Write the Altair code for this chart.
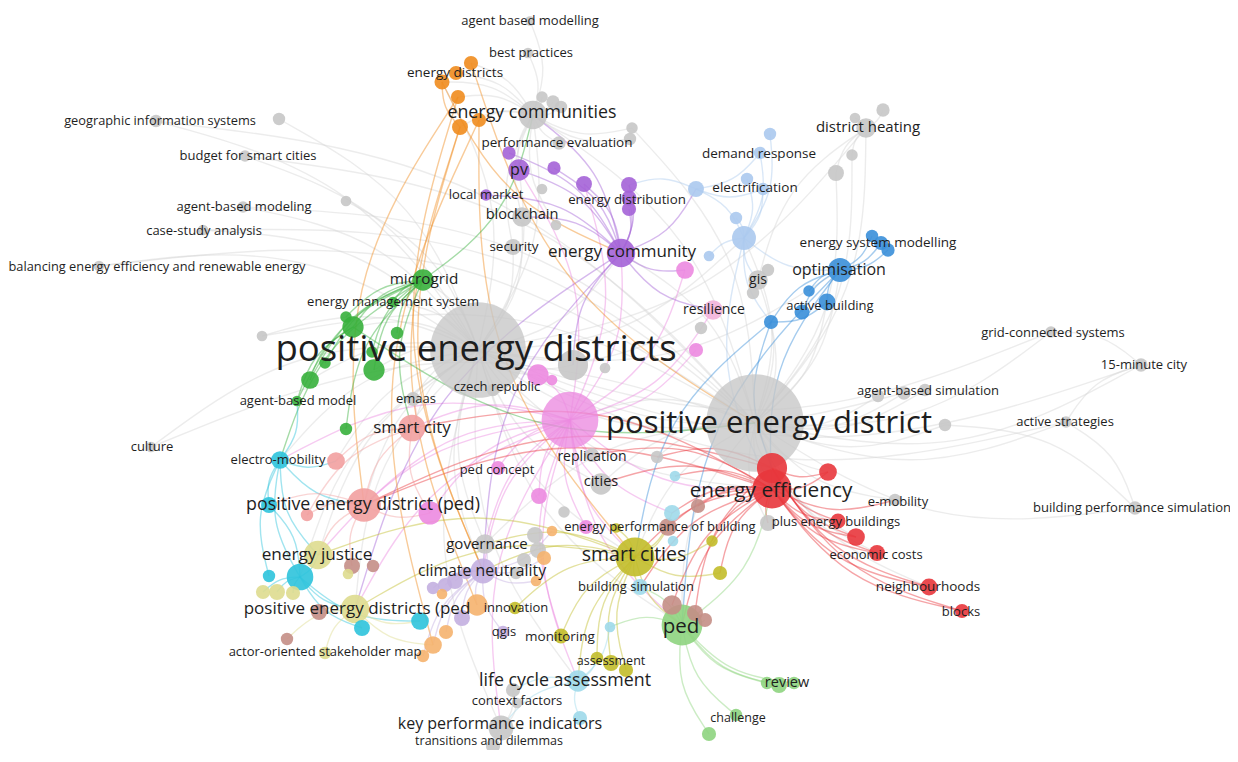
import altair as alt
import pandas as pd

# ---------------- cluster colours ----------------
cluster_colors = {
    "G": "#c6c6c6", "O": "#f08c1e", "P": "#a463d7", "LB": "#abc9ee", "B": "#3a8fd9",
    "GR": "#37b03c", "PK": "#ec8ae0", "S": "#f2a0a0", "R": "#e8363c", "C": "#2ec3dc",
    "Y": "#c2bd2a", "KH": "#dedc8f", "BR": "#c48e86", "LG": "#8ed47f", "LC": "#9ed9ea",
    "LV": "#c3afe0", "LO": "#f5b26e", "LP": "#f2b3da",
}

# ---------------- nodes (id, x, y, diameter, cluster) ----------------
node_id = [
    "peds", "ped1", "ecom", "abm", "bp", "g1", "g2", "g3", "g4", "g5", "perf", "bc", "g6", "g7", "sec",
    "gis1", "g8", "bud", "abmod", "g9", "csa", "bal", "g10", "cul", "emaas", "czech", "g11", "g12",
    "g13", "gis", "g14", "g15", "dh", "g16", "g17", "g18", "g19", "grid", "min15", "abs1", "abs2",
    "abs3", "g20", "act", "bps", "emob", "repl", "cities", "g21", "g22", "gov", "g23", "g24", "g25",
    "g26", "ctx", "g27", "kpi", "tad", "g28",
    "o1", "o2", "o3", "o4", "o5", "o6",
    "pv", "p1", "lm", "p2", "p3", "p4", "p5", "p6", "ecomty",
    "lb1", "lb2", "lb3", "lb4", "lb5", "lb6", "lb7", "lb8",
    "b1", "b2", "b3", "opt", "b4", "b5", "b6", "b7",
    "mg", "ems", "gr1", "gr2", "gr3", "gr4", "gr5", "gr6", "gr7", "gr8", "gr9",
    "pkbig", "pk1", "pk2", "pk3", "pk4", "pedc", "pk5", "pk6", "pk7", "res",
    "pedp", "sc", "s1", "s2",
    "ee1", "ee2", "r1", "r2", "r3", "ec", "nb", "bl",
    "em", "c1", "c2", "c3", "c4", "c5",
    "scs", "y1", "y2", "y3", "mon", "y4", "y5", "y6", "innov",
    "ej", "pedsp", "k1", "k2", "k3", "asm", "k5",
    "br1", "br2", "br3", "br4", "br5", "br6", "br7", "br8", "br9",
    "ped", "rv1", "rv2", "rv3", "ch", "lg1",
    "lc1", "lc2", "lc3", "bs", "lca", "lc4", "lc5",
    "cn", "lv1", "lv2", "lv3", "lv4", "qgis", "lv5",
    "lo1", "lo2", "lo3", "lo4", "lo5", "lo6", "lo7", "lo9",
]
node_x = [
    478, 755, 533, 530, 528, 542, 553, 561, 632, 630, 559, 522, 542, 556, 513,
    156, 279, 245, 243, 346, 203, 99, 262, 151, 413, 493, 573, 605,
    701, 758, 768, 753, 866, 883, 855, 852, 836, 1051, 1141, 878, 904,
    925, 945, 1066, 1135, 895, 592, 601, 657, 564, 485, 535, 538, 524,
    516, 513, 517, 501, 493, 768,
    471, 456, 442, 458, 460, 479,
    519, 509, 486, 554, 584, 629, 629, 629, 621,
    770, 760, 747, 696, 763, 736, 744, 709,
    872, 881, 888, 840, 809, 827, 802, 771,
    423, 393, 346, 353, 397, 374, 372, 325, 310, 297, 346,
    570, 538, 552, 685, 696, 498, 539, 430, 586, 713,
    364, 412, 336, 307,
    772, 772, 828, 838, 856, 877, 929, 962,
    280, 269, 300, 269, 362, 420,
    635, 712, 720, 616, 561, 597, 611, 626, 515,
    318, 355, 263, 277, 293, 325, 348,
    352, 373, 319, 287, 698, 668, 672, 695, 705,
    682, 767, 779, 794, 736, 709,
    672, 673, 675, 640, 578, 580, 610,
    483, 455, 445, 433, 462, 503, 466,
    552, 544, 536, 477, 446, 433, 423, 442,
]
node_y = [
    350, 423, 115, 21, 53, 97, 102, 107, 128, 139, 143, 217, 189, 225, 247,
    121, 119, 156, 207, 201, 230, 266, 336, 447, 399, 390, 365, 368,
    328, 280, 270, 293, 128, 110, 118, 155, 173, 332, 365, 396, 393,
    390, 425, 422, 508, 500, 455, 484, 457, 512, 544, 535, 550, 560,
    573, 690, 703, 728, 746, 523,
    63, 73, 82, 97, 127, 120,
    170, 153, 195, 168, 184, 185, 198, 209, 253,
    134, 153, 179, 189, 189, 218, 238, 256,
    236, 243, 250, 270, 291, 302, 312, 322,
    280, 302, 317, 327, 333, 370, 352, 363, 380, 401, 429,
    420, 375, 380, 270, 350, 468, 496, 513, 527, 310,
    505, 428, 461, 515,
    468, 489, 472, 521, 537, 553, 587, 611,
    460, 505, 577, 576, 628, 621,
    557, 541, 573, 528, 636, 658, 663, 670, 608,
    555, 609, 592, 592, 593, 653, 574,
    566, 566, 612, 639, 506, 527, 605, 613, 620,
    625, 683, 685, 683, 715, 734,
    513, 541, 476, 587, 681, 718, 627,
    571, 581, 585, 588, 618, 632, 573,
    531, 558, 581, 605, 632, 645, 656, 594,
]
node_d = [
    108, 110, 32, 11, 12, 13, 15, 14, 13, 14, 15, 22, 12, 12, 18,
    14, 14, 13, 13, 12, 12, 12, 12, 12, 16, 14, 34, 12,
    14, 22, 14, 14, 22, 15, 12, 13, 18, 13, 15, 14, 15,
    14, 14, 13, 15, 14, 16, 24, 14, 13, 22, 18, 18, 16,
    14, 16, 12, 28, 16, 18,
    16, 16, 17, 16, 18, 16,
    24, 15, 13, 15, 18, 18, 17, 16, 32,
    14, 14, 14, 18, 14, 14, 27, 12,
    14, 16, 15, 27, 13, 19, 17, 16,
    24, 12, 13, 24, 14, 24, 13, 13, 20, 12, 14,
    64, 24, 12, 20, 16, 16, 18, 26, 16, 22,
    38, 30, 20, 14,
    34, 44, 20, 17, 20, 18, 19, 16,
    20, 18, 30, 14, 18, 20,
    44, 13, 16, 11, 17, 14, 18, 16, 14,
    32, 32, 16, 18, 16, 14, 12,
    18, 14, 18, 14, 16, 20, 22, 18, 16,
    46, 14, 18, 14, 14, 16,
    18, 12, 12, 18, 24, 16, 12,
    28, 18, 16, 14, 18, 14, 14,
    12, 16, 12, 24, 16, 20, 14, 12,
]
node_cluster = (
    ["G"] * 60
    + ["O"] * 6
    + ["P"] * 9
    + ["LB"] * 8
    + ["B"] * 8
    + ["GR"] * 11
    + ["PK"] * 9 + ["LP"]
    + ["S"] * 4
    + ["R"] * 8
    + ["C"] * 6
    + ["Y"] * 9
    + ["KH"] * 7
    + ["BR"] * 9
    + ["LG"] * 6
    + ["LC"] * 7
    + ["LV"] * 7
    + ["LO"] * 8
)

# ---------------- links (source -> targets) ----------------
links = {
    "peds": ["bal", "csa", "abmod", "bud", "gis1", "g8", "g9", "g10", "cul", "mg", "ems", "gr2", "gr4",
             "gr7", "em", "ecom", "o3", "pv", "bc", "sec", "ecomty", "pkbig", "sc", "pedp", "ej", "pedsp",
             "cn", "gov", "ped1", "ee2", "scs", "ped", "cities", "kpi", "lca", "emaas", "opt", "lb7",
             "dh", "res", "pk1", "s1", "c2", "g11", "grid", "abs2", "act", "min15"],
    "ped1": ["grid", "min15", "act", "bps", "abs1", "abs2", "abs3", "g20", "emob", "ee2", "ee1", "r1",
             "r3", "ec", "nb", "opt", "b5", "b7", "gis", "lb7", "dh", "g19", "ecomty", "pkbig", "scs",
             "ped", "cities", "gov", "bal", "abmod", "csa", "g10", "g28", "g21", "bud", "gis1", "cul",
             "g18", "ecom", "g4"],
    "pkbig": ["pedc", "pk5", "pk6", "pk7", "pedp", "sc", "cn", "ej", "pedsp", "ecomty", "pk3", "res",
              "pk4", "ee2", "scs", "ped", "pv", "p3", "lc1", "gov", "cities", "repl", "kpi", "pk1",
              "em", "mon", "lca"],
    "ee2": ["r1", "r2", "r3", "ec", "nb", "bl", "br5", "br6", "lc1", "scs", "ped", "pedp", "sc", "y1",
            "y2", "br7", "lc3", "g28", "bs", "emob", "cities", "repl"],
    "ee1": ["r1", "r2", "ec", "nb", "bl", "r3", "pedp", "br8", "g21"],
    "ecomty": ["pv", "p1", "p2", "p3", "p4", "p5", "p6", "lm", "bc", "lb4", "pk3", "res", "ecom", "g11",
               "cn", "pedsp"],
    "ecom": ["o1", "o2", "o3", "o4", "o5", "o6", "abm", "bp", "g1", "g2", "g3", "perf", "bc", "pv",
             "g4", "g5", "sec", "g7"],
    "o3": ["ecomty", "o5"], "o4": ["pedp", "cn"], "o5": ["cn", "lo4"], "o1": ["ped1"], "o6": ["scs", "lo6"],
    "lb7": ["lb1", "lb2", "lb3", "lb4", "lb5", "lb6", "lb8", "opt", "gis", "b7", "ee2"],
    "lb4": ["p4", "lb5", "lb2"],
    "opt": ["b1", "b2", "b3", "b4", "b5", "b6", "b7", "ee2", "ped"],
    "b7": ["ee1", "scs", "b5"],
    "mg": ["gr1", "gr2", "gr3", "gr4", "gr5", "gr6", "gr7", "gr8", "gr9", "ems", "em", "sc", "ecom"],
    "gr2": ["gr7", "gr8", "ped1"],
    "em": ["c1", "c2", "c3", "pedp", "s1", "ej", "gr8"],
    "c2": ["c4", "c5", "pedsp", "ej", "k1", "k2", "k3", "c1"],
    "scs": ["y1", "y2", "y3", "mon", "y4", "y5", "y6", "innov", "bs", "lca", "ped", "lc1", "br6", "cn",
            "gov", "ej", "pedsp"],
    "ped": ["rv1", "rv2", "rv3", "ch", "lg1", "br7", "br8", "br9", "bs", "ee2", "lc5"],
    "cn": ["lv1", "lv2", "lv3", "lv4", "lv5", "qgis", "lo1", "lo2", "lo3", "lo4", "lo5", "lo6", "lo7", "gov"],
    "dh": ["g16", "g17", "g18", "g19", "gis"],
    "min15": ["grid", "act"], "bps": ["act", "g20"],
    "lca": ["lc4", "lc5", "kpi", "ctx", "y4"],
    "kpi": ["ctx", "tad", "g27"],
    "pedsp": ["asm", "br3", "br4", "lo6", "c4", "c5"],
    "sc": ["s1", "s2", "pedp", "pk6", "emaas"],
    "pedp": ["pk6", "c1", "s2", "br1", "ej"],
}

# ---------------- labels ----------------
label_text = [
    "positive energy districts", "positive energy district", "energy efficiency", "energy communities",
    "smart cities", "ped", "positive energy district (ped)", "energy justice",
    "positive energy districts (ped", "climate neutrality", "smart city", "energy community",
    "optimisation", "key performance indicators", "life cycle assessment", "review", "blockchain", "pv",
    "gis", "district heating", "microgrid", "governance", "cities", "replication", "resilience",
    "electrification", "demand response", "energy distribution", "building simulation", "monitoring",
    "neighbourhoods", "economic costs", "plus energy buildings", "energy performance of building",
    "e-mobility", "blocks", "challenge", "assessment", "innovation", "qgis",
    "actor-oriented stakeholder map", "transitions and dilemmas", "context factors", "ped concept",
    "czech republic", "emaas", "agent-based model", "electro-mobility", "culture",
    "balancing energy efficiency and renewable energy", "case-study analysis", "agent-based modeling",
    "budget for smart cities", "geographic information systems", "energy management system", "security",
    "local market", "performance evaluation", "energy districts", "best practices",
    "agent based modelling", "energy system modelling", "active building", "grid-connected systems",
    "15-minute city", "agent-based simulation", "active strategies", "building performance simulation",
]
label_x = [
    476, 769, 771, 532, 634, 681, 363, 317, 357, 482, 412, 622, 839, 500, 565, 787, 522, 519,
    758, 868, 424, 487, 601, 592, 714, 755, 759, 627, 636, 560, 928, 876, 836, 660,
    898, 961, 738, 611, 516, 504, 325, 489, 517, 497, 497, 416, 298, 278, 152,
    157, 204, 244, 248, 160, 393, 514, 486, 557, 455, 531,
    530, 878, 830, 1053, 1144, 928, 1065, 1132,
]
label_y = [
    350, 424, 491, 113, 555, 627, 505, 555, 609, 571, 428, 252, 270, 724, 681, 683, 215, 170,
    280, 127, 279, 544, 482, 457, 310, 188, 154, 200, 587, 637, 587, 555, 522, 527,
    502, 612, 718, 661, 608, 632, 652, 741, 701, 470, 387, 399, 401, 460, 447,
    267, 231, 207, 156, 121, 302, 247, 195, 143, 73, 53,
    21, 243, 306, 333, 365, 391, 422, 508,
]
label_size = [
    36.5, 31, 20.8, 17.8, 19.5, 20.5, 17.8, 17.2, 17, 15.8, 17, 17, 16, 16, 17.8, 14.5, 14.6, 16,
    14, 15, 15.3, 15, 14.5, 14, 14, 13.5, 13.5, 13.3, 13, 13.5, 13.5, 13, 13, 13,
    13, 13, 12.5, 12.5, 13, 13, 13, 12.5, 13, 13, 13, 13, 13, 13, 13,
    12.8, 13, 13, 13, 12.8, 13, 13.5, 13, 13.5, 13.5, 13,
    13, 13.5, 13, 13, 13, 13, 13, 13,
]

# ---------------- build tables ----------------
nodes = pd.DataFrame({"id": node_id, "x": node_x, "y": node_y, "d": node_d, "cl": node_cluster})
nodes["color"] = nodes["cl"].map(cluster_colors)
nodes["area"] = 3.14159 * (nodes["d"] / 2.0) ** 2
nodes["op"] = [0.78 if d > 60 else 0.9 for d in nodes["d"]]
nodes = nodes.sort_values("d", ascending=False).reset_index(drop=True)
nodes["ord"] = range(len(nodes))
pos = {r.id: (r.x, r.y, r.color) for r in nodes.itertuples()}

rows = []
k = 0
for src, tgts in links.items():
    for t in tgts:
        x1, y1, col = pos[src]
        x2, y2, _ = pos[t]
        mx, my = (x1 + x2) / 2, (y1 + y2) / 2
        cx, cy = mx - 0.18 * (y2 - y1), my + 0.18 * (x2 - x1)
        ecol = "#d4d4d4" if col == cluster_colors["G"] else col
        for i, (px, py) in enumerate([(x1, y1), (cx, cy), (x2, y2)]):
            rows.append({"e": k, "i": i, "x": px, "y": py, "color": ecol})
        k += 1
edges = pd.DataFrame(rows)

labels = pd.DataFrame({"t": label_text, "x": label_x, "y": label_y, "s": label_size})

# one data unit = one screen pixel of the reference picture
xs = alt.Scale(domain=[8, 1230], nice=False, zero=False)
ys = alt.Scale(domain=[8, 750], nice=False, zero=False, reverse=True)

edge_layer = alt.Chart(edges).mark_line(interpolate="basis", strokeWidth=1.4, opacity=0.45).encode(
    x=alt.X("x:Q", scale=xs, axis=None),
    y=alt.Y("y:Q", scale=ys, axis=None),
    detail="e:N",
    order="i:Q",
    color=alt.Color("color:N", scale=None),
)

node_layer = alt.Chart(nodes).mark_circle().encode(
    x=alt.X("x:Q", scale=xs, axis=None),
    y=alt.Y("y:Q", scale=ys, axis=None),
    size=alt.Size("area:Q", scale=None),
    color=alt.Color("color:N", scale=None),
    opacity=alt.Opacity("op:Q", scale=None),
    order="ord:Q",
)

label_layer = alt.Chart(labels).mark_text(font="Open Sans", color="#1e1e1e", align="center",
                                          baseline="middle").encode(
    x=alt.X("x:Q", scale=xs, axis=None),
    y=alt.Y("y:Q", scale=ys, axis=None),
    text="t:N",
    size=alt.Size("s:Q", scale=None),
)

chart = alt.layer(edge_layer, node_layer, label_layer).properties(
    width=1222, height=742, padding=0, background="white",
    autosize=alt.AutoSizeParams(type="none"),
).configure_view(stroke=None)

chart.save("out.html", embed_options={"renderer": "svg", "actions": False})
